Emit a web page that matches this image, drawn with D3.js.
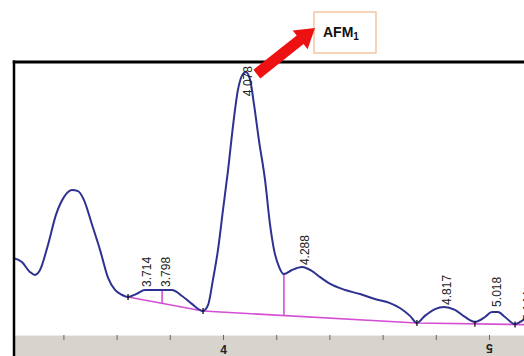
<!DOCTYPE html>
<html>
<head>
<meta charset="utf-8">
<script src="https://cdn.jsdelivr.net/npm/d3@7"></script>
<style>
  body { margin: 0; background: #fff; }
  svg { display: block; }
</style>
</head>
<body>
<div id="chart"></div>
<script>
// chromatogram trace: retention time (min) and signal
var traceTime = [3.211, 3.244, 3.274, 3.293, 3.312, 3.342, 3.372, 3.402, 3.432, 3.455, 3.477, 3.508, 3.538, 3.568, 3.594, 3.620, 3.643,
  3.673, 3.707, 3.763, 3.808, 3.846, 3.883, 3.925, 3.944, 3.962, 3.981, 4.000, 4.019, 4.038, 4.056, 4.075, 4.086, 4.102, 4.117, 4.135,
  4.158, 4.177, 4.192, 4.211, 4.229, 4.259, 4.297, 4.335, 4.365, 4.398, 4.459, 4.515, 4.571, 4.628, 4.665, 4.703, 4.729, 4.759, 4.797,
  4.831, 4.872, 4.910, 4.947, 4.985, 5.011, 5.034, 5.060, 5.098, 5.117, 5.135];
var traceSignal = [28.2, 26.7, 23.1, 22.0, 23.8, 33.0, 44.0, 50.5, 53.1, 52.7, 49.5, 40.3, 31.1, 20.9, 16.5, 14.7, 13.9,
  15.0, 16.5, 16.5, 16.5, 14.3, 11.4, 8.8, 11.0, 20.1, 31.1, 45.8, 60.4, 76.9, 89.7, 95.6, 96.3, 93.4, 84.2, 71.4,
  56.8, 40.3, 31.1, 24.9, 22.3, 23.8, 24.9, 23.4, 21.2, 19.0, 16.5, 15.0, 13.2, 11.7, 9.9, 7.0, 4.4, 7.0, 9.5,
  10.3, 9.2, 6.6, 4.8, 6.6, 8.4, 8.4, 6.6, 4.0, 4.8, 5.9];

// integration baseline
var baseTime = [3.643, 3.925, 4.729, 5.135];
var baseSignal = [13.9, 8.8, 4.4, 3.8];

// peak labels
var peakNames = ["3.714", "3.798", "4.078", "4.288", "4.817", "5.018", "5.144"];
var peakTime = [3.704, 3.775, 4.084, 4.297, 4.831, 5.020, 5.136];
var peakSignal = [17.6, 17.6, 87.5, 25.6, 11.0, 10.3, 5.1];

// drop lines between peaks
var dropTime = [3.771, 4.229];
var dropSignal = [16.5, 22.3];

// integration marks
var markTime = [3.643, 3.925, 4.729, 4.947, 5.098];

var xTicks = [3.4, 3.6, 3.8, 4.0, 4.2, 4.4, 4.6, 4.8, 5.0];

var w = 524, h = 356;
var plotLeft = 14, plotTop = 62, plotBottom = 335;

var svg = d3.select("#chart").append("svg")
  .attr("width", w).attr("height", h);

var x = d3.scaleLinear().domain([4, 5]).range([223, 489]);
var y = d3.scaleLinear().domain([0, 100]).range([plotBottom, plotTop]);
var baseY = d3.scaleLinear().domain(baseTime).range(baseSignal);

svg.append("defs").append("clipPath").attr("id", "plot")
  .append("rect").attr("x", plotLeft).attr("y", plotTop).attr("width", w - plotLeft).attr("height", plotBottom - plotTop);

// gray axis band
svg.append("rect").attr("x", plotLeft).attr("y", plotBottom).attr("width", w - plotLeft).attr("height", h - plotBottom)
  .attr("fill", "#d6d4cc");
svg.append("line").attr("x1", plotLeft).attr("x2", w).attr("y1", plotBottom + 0.5).attr("y2", plotBottom + 0.5)
  .attr("stroke", "#eeede8");

var xaxis = d3.axisBottom(x).tickValues(xTicks).tickSize(5)
  .tickFormat(function(d) { return Math.abs(d - Math.round(d)) < 1e-9 ? d3.format("d")(d) : ""; });

var ax = svg.append("g").attr("transform", "translate(0," + plotBottom + ")").call(xaxis);
ax.select(".domain").remove();
ax.selectAll(".tick line").attr("stroke", "#666").attr("stroke-width", 1);
ax.selectAll(".tick text").attr("fill", "#222").attr("font-family", "Liberation Sans, Arial, sans-serif")
  .attr("font-size", 12).attr("font-weight", "bold").attr("dy", "0.95em");
ax.selectAll(".tick text").filter(function(d) { return Math.abs(d - 5) < 1e-9; })
  .attr("transform", "rotate(180,0,14)").attr("dy", "0.71em").attr("y", 10);

var g = svg.append("g").attr("clip-path", "url(#plot)");

// baseline
g.append("path")
  .datum(baseTime.map(function(t, i) { return [t, baseSignal[i]]; }))
  .attr("fill", "none").attr("stroke", "#d54fd5").attr("stroke-width", 1.6)
  .attr("d", d3.line().x(function(d) { return x(d[0]); }).y(function(d) { return y(d[1]); }));

// drop lines
g.selectAll(".drop").data(dropTime).enter().append("line")
  .attr("x1", function(d) { return x(d); }).attr("x2", function(d) { return x(d); })
  .attr("y1", function(d, i) { return y(dropSignal[i]); })
  .attr("y2", function(d) { return y(baseY(d)); })
  .attr("stroke", "#d54fd5").attr("stroke-width", 1.6);

// trace
g.append("path")
  .datum(traceTime.map(function(t, i) { return [t, traceSignal[i]]; }))
  .attr("fill", "none").attr("stroke", "#2e3191").attr("stroke-width", 2)
  .attr("d", d3.line().curve(d3.curveMonotoneX)
    .x(function(d) { return x(d[0]); }).y(function(d) { return y(d[1]); }));

// integration marks
g.selectAll(".mark").data(markTime).enter().append("line")
  .attr("x1", function(d) { return x(d); }).attr("x2", function(d) { return x(d); })
  .attr("y1", function(d) { return y(baseY(d)) - 3; })
  .attr("y2", function(d) { return y(baseY(d)) + 3; })
  .attr("stroke", "#111").attr("stroke-width", 1.3);

// peak labels
g.selectAll(".lbl").data(peakNames).enter().append("text")
  .attr("transform", function(d, i) { return "translate(" + (x(peakTime[i]) + 7) + "," + y(peakSignal[i]) + ") rotate(-90)"; })
  .attr("font-family", "Liberation Sans Narrow, Arial Narrow, Liberation Sans, sans-serif")
  .attr("font-size", 12).attr("fill", "#222")
  .text(function(d) { return d; });

// frame
svg.append("line").attr("x1", plotLeft).attr("x2", plotLeft).attr("y1", plotTop - 1.5).attr("y2", h)
  .attr("stroke", "#000").attr("stroke-width", 2.5);
svg.append("line").attr("x1", plotLeft - 1.25).attr("x2", w).attr("y1", plotTop).attr("y2", plotTop)
  .attr("stroke", "#000").attr("stroke-width", 3);

// callout box
var boxX = 314, boxY = 12, boxW = 62, boxH = 41;
svg.append("rect").attr("x", boxX).attr("y", boxY).attr("width", boxW).attr("height", boxH)
  .attr("fill", "#fff").attr("stroke", "#f0b88c").attr("stroke-width", 1.2);
var lab = svg.append("text").attr("x", boxX + 9).attr("y", boxY + 25)
  .attr("font-family", "Liberation Sans, Arial, sans-serif").attr("font-size", 14).attr("font-weight", "bold")
  .attr("fill", "#111");
lab.append("tspan").text("AFM");
lab.append("tspan").attr("font-size", 10).attr("dy", 3).text("1");

// red arrow from main peak to box
var ax0 = x(4.086) + 11, ay0 = y(96.3) + 2;
var ax1 = boxX + 1, ay1 = boxY + 16;
var dx = ax1 - ax0, dy = ay1 - ay0, len = Math.sqrt(dx * dx + dy * dy);
var ux = dx / len, uy = dy / len, nx = -uy, ny = ux;
var sw = 5.5, hw = 12, hl = 19;
var bx = ax1 - ux * hl, by = ay1 - uy * hl;
var pts = [
  [ax0 + nx * sw, ay0 + ny * sw], [bx + nx * sw, by + ny * sw], [bx + nx * hw, by + ny * hw],
  [ax1, ay1],
  [bx - nx * hw, by - ny * hw], [bx - nx * sw, by - ny * sw], [ax0 - nx * sw, ay0 - ny * sw]
];
svg.append("polygon").attr("points", pts.map(function(p) { return p.join(","); }).join(" "))
  .attr("fill", "#ee1111");
</script>
</body>
</html>
